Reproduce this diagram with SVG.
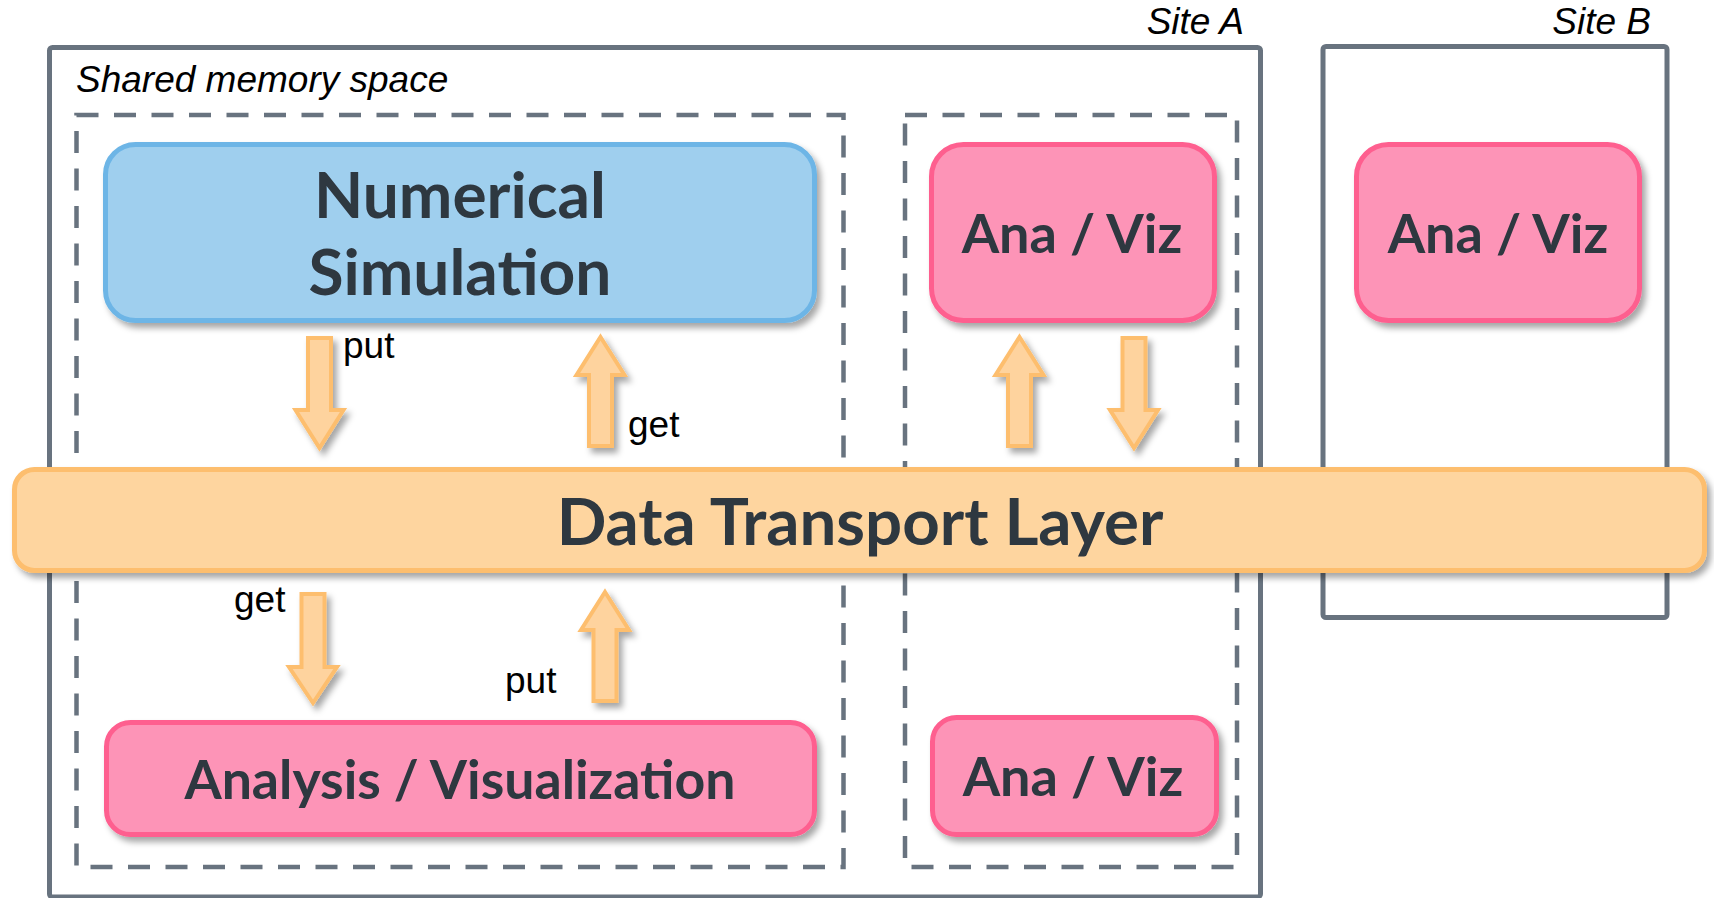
<svg xmlns="http://www.w3.org/2000/svg" width="1714" height="898" viewBox="0 0 1714 898">
<style>
.site{fill:none;stroke:#68737F;stroke-width:5}
.dash{fill:none;stroke:#68737F;stroke-width:4.5;stroke-dasharray:22 15.5}
.blue{fill:#9FCFEE;stroke:#6DB5E6;stroke-width:5}
.pink{fill:#FD94B7;stroke:#FE5F8F;stroke-width:5}
.dtl{fill:#FED59F;stroke:#FDBE6E;stroke-width:5}
.arr{fill:#FED39E;stroke:#FDBE6E;stroke-width:4;stroke-linejoin:miter}
.lbl{font-family:Lato,"Liberation Sans",sans-serif;font-weight:700;fill:#2F3740;text-anchor:middle}
.ital{font-family:"Liberation Sans",Arial,sans-serif;font-style:italic;font-size:37px;fill:#000}
.sm{font-family:"Liberation Sans",Arial,sans-serif;font-size:37px;fill:#000}
</style>
<defs>
<filter id="sh" x="-10%" y="-20%" width="130%" height="150%">
<feDropShadow dx="4" dy="5" stdDeviation="3" flood-color="#000" flood-opacity="0.35"/>
</filter>
</defs>

<g id="siteA">
<rect class="site" x="49.5" y="47.5" width="1211" height="849.5" rx="3"/>
<text class="ital" x="1244" y="34" text-anchor="end">Site A</text>
</g>
<g id="siteB">
<rect class="site" x="1323" y="46.5" width="344" height="571" rx="3"/>
<text class="ital" x="1651" y="34" text-anchor="end">Site B</text>
</g>
<g id="shared">
<rect class="dash" x="76.5" y="115" width="767" height="752"/>
<text class="ital" x="76" y="92">Shared memory space</text>
</g>
<g id="siteAgroup">
<rect class="dash" x="905" y="115" width="332" height="752"/>
</g>

<g id="sim" filter="url(#sh)">
<rect class="blue" x="105.5" y="144.5" width="709" height="176" rx="30"/>
<text class="lbl" x="460" y="218" font-size="64">Numerical</text>
<text class="lbl" x="460" y="295" font-size="64">Simulation</text>
</g>
<g id="anavizA" filter="url(#sh)">
<rect class="pink" x="931.5" y="144.5" width="283" height="176" rx="32"/>
<text class="lbl" x="1072" y="253" font-size="54">Ana / Viz</text>
</g>
<g id="anavizB" filter="url(#sh)">
<rect class="pink" x="1356.5" y="144.5" width="283" height="176" rx="32"/>
<text class="lbl" x="1498" y="253" font-size="54">Ana / Viz</text>
</g>
<g id="anaviz" filter="url(#sh)">
<rect class="pink" x="106.5" y="722.5" width="708" height="112" rx="24"/>
<text class="lbl" x="460" y="799" font-size="53.6">Analysis / Visualization</text>
</g>
<g id="anavizA2" filter="url(#sh)">
<rect class="pink" x="932.5" y="717.5" width="284" height="117" rx="24"/>
<text class="lbl" x="1073" y="796" font-size="54">Ana / Viz</text>
</g>

<g id="dtl" filter="url(#sh)">
<rect class="dtl" x="14.5" y="469.5" width="1690" height="101" rx="20"/>
<text class="lbl" x="860" y="545" font-size="65.4">Data Transport Layer</text>
</g>

<g id="connectors" filter="url(#sh)">
<polygon class="arr" points="308,338 331,338 331,410 343.5,410 319.5,448 295.5,410 308,410"/>
<polygon class="arr" points="600.5,337 624.5,375 612,375 612,446 589,446 589,375 576.5,375"/>
<polygon class="arr" points="1019.5,337 1043.5,375 1031,375 1031,446 1008,446 1008,375 995.5,375"/>
<polygon class="arr" points="1122.5,338 1145.5,338 1145.5,410 1158,410 1134,448 1110,410 1122.5,410"/>
<polygon class="arr" points="301.5,594 324.5,594 324.5,667 337,667 313,703 289,667 301.5,667"/>
<polygon class="arr" points="605,592 629,630 616.5,630 616.5,701 593.5,701 593.5,630 581,630"/>
</g>
<g id="labels">
<text class="sm" x="343" y="358">put</text>
<text class="sm" x="628" y="437">get</text>
<text class="sm" x="234" y="612">get</text>
<text class="sm" x="505" y="693">put</text>
</g>
</svg>
